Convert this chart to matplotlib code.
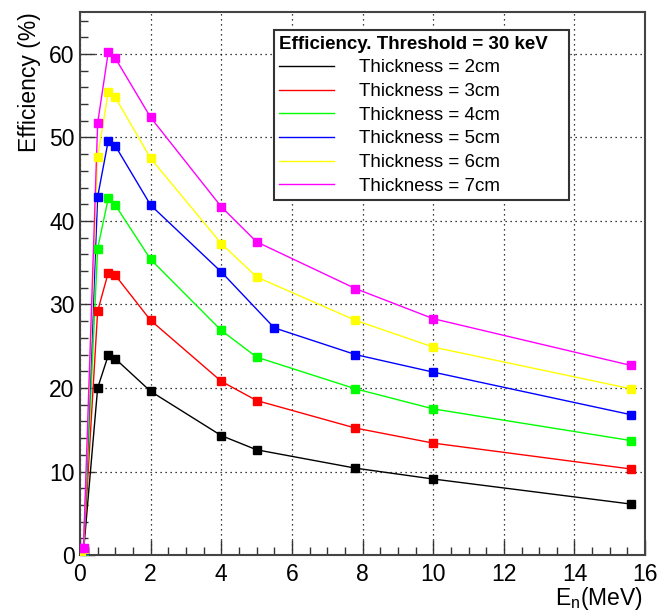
import matplotlib
matplotlib.use("Agg")
import matplotlib.pyplot as plt
from matplotlib.ticker import MultipleLocator

plt.rcParams['font.family'] = ['Liberation Sans', 'DejaVu Sans']

# Neutron energies (MeV)
energy = [0.02, 0.1, 0.5, 0.8, 1.0, 2.0, 4.0, 5.0, 7.8, 10.0, 15.6]
energy_5cm = [0.02, 0.1, 0.5, 0.8, 1.0, 2.0, 4.0, 5.5, 7.8, 10.0, 15.6]

eff_2cm = [0.3, 0.4, 20.0, 23.9, 23.5, 19.6, 14.3, 12.6, 10.4, 9.1, 6.1]
eff_3cm = [0.3, 0.5, 29.2, 33.8, 33.5, 28.1, 20.8, 18.5, 15.2, 13.4, 10.3]
eff_4cm = [0.4, 0.5, 36.7, 42.7, 41.9, 35.4, 26.9, 23.7, 19.9, 17.5, 13.7]
eff_5cm = [0.4, 0.6, 42.9, 49.6, 49.0, 41.9, 33.9, 27.2, 24.0, 21.9, 16.8]
eff_6cm = [0.5, 0.7, 47.7, 55.4, 54.8, 47.5, 37.3, 33.3, 28.1, 24.9, 19.9]
eff_7cm = [0.8, 0.8, 51.7, 60.2, 59.5, 52.4, 41.7, 37.5, 31.9, 28.3, 22.7]

labels = ["Thickness = 2cm", "Thickness = 3cm", "Thickness = 4cm",
          "Thickness = 5cm", "Thickness = 6cm", "Thickness = 7cm"]
colors = ["#000000", "#ff0000", "#00ff00", "#0000ff", "#ffff00", "#ff00ff"]
xs = [energy, energy, energy, energy_5cm, energy, energy]
ys = [eff_2cm, eff_3cm, eff_4cm, eff_5cm, eff_6cm, eff_7cm]

fig = plt.figure(figsize=(6.61, 6.13), dpi=100)
ax = fig.add_axes([0.121, 0.0946, 0.855, 0.8855])

for x, y, c, lab in zip(xs, ys, colors, labels):
    ax.plot(x, y, '-', color=c, lw=1.0, label=lab, zorder=3)
    ax.plot(x, y, 's', color=c, ms=5.5, mec=c, zorder=4)

ax.set_xlim(0, 16)
ax.set_ylim(0, 65)
ax.xaxis.set_major_locator(MultipleLocator(2))
ax.xaxis.set_minor_locator(MultipleLocator(0.5))
ax.yaxis.set_major_locator(MultipleLocator(10))
ax.yaxis.set_minor_locator(MultipleLocator(2))
ax.tick_params(which='both', direction='in', top=False, right=False,
               labelsize=16.5, color='#333333')
ax.tick_params(which='major', length=11, width=1)
ax.tick_params(which='minor', length=6, width=1)
ax.tick_params(axis='x', pad=6)
ax.tick_params(axis='y', pad=4)
ax.grid(True, which='major', color='black', linestyle=(0, (1, 3)), lw=0.9)
for s in ax.spines.values():
    s.set_color('#444444')
    s.set_linewidth(1.5)

fig.text(0.972, 0.024, r"E$_{\mathregular{n}}$(MeV)", fontsize=16.5, ha='right', va='center')
ax.set_ylabel("Efficiency (%)", fontsize=16.5, ha='right', y=1.0, labelpad=6)

handles, labs = ax.get_legend_handles_labels()
leg = ax.legend(handles, labs, loc='upper left',
                bbox_to_anchor=(0.343, 0.659, 0.522, 0.308), mode='expand',
                borderaxespad=0.0,
                title="Efficiency. Threshold = 30 keV",
                title_fontproperties={'weight': 'bold', 'size': 13.5},
                fontsize=13.5, frameon=True, fancybox=False, framealpha=1,
                edgecolor='#333333', handlelength=2.9, handletextpad=1.35,
                labelspacing=0.35, borderpad=0.3, alignment='left')
leg.get_frame().set_linewidth(1.5)
leg.set_zorder(10)

fig.savefig("out.png", dpi=100)
